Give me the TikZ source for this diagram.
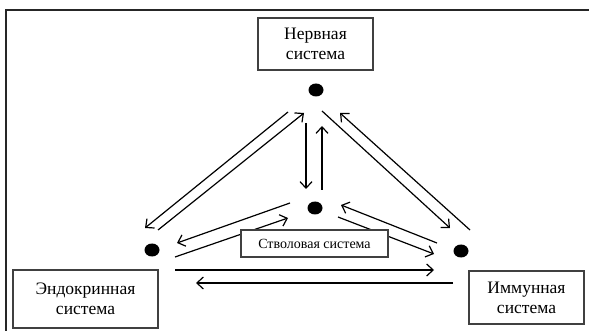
\documentclass[tikz,border=0pt]{standalone}
\usepackage{fontspec}
\setmainfont{Liberation Serif}
\usetikzlibrary{arrows.meta,shapes.geometric}
\begin{document}
\begin{tikzpicture}[x=1pt,y=-1pt,
  sysbox/.style={draw=black!75,line width=1.3pt,fill=white,inner sep=0pt,align=center,
    font=\fontsize{17.5}{20}\selectfont},
  dotnode/.style={ellipse,fill=black,minimum width=15pt,minimum height=13pt,inner sep=0pt},
  arr/.style={line width=1.2pt,-{Straight Barb[length=6.5pt,width=12pt,line width=1.2pt]}}]
\useasboundingbox (0,0) rectangle (589,331);
% outer frame (top and left)
\draw[line width=1.4pt,black!85] (589,10) -- (6,10) -- (6,331);
% dots
\node[dotnode] (T) at (316,90) {};
\node[dotnode] (M) at (315,208) {};
\node[dotnode] (L) at (152,250) {};
\node[dotnode] (R) at (461,251) {};
% arrow end points
\coordinate (a1) at (288,112); \coordinate (a2) at (145,228);
\coordinate (b1) at (158,230); \coordinate (b2) at (304,113);
\coordinate (c1) at (322,111); \coordinate (c2) at (450,228);
\coordinate (d1) at (470,230); \coordinate (d2) at (340,113);
\coordinate (e1) at (306,123); \coordinate (e2) at (306,189);
\coordinate (f1) at (322,190); \coordinate (f2) at (322,126);
\coordinate (g1) at (290,203); \coordinate (g2) at (177,243);
\coordinate (h1) at (175,257); \coordinate (h2) at (288,218);
\coordinate (i1) at (437,243); \coordinate (i2) at (341,205);
\coordinate (j1) at (338,217); \coordinate (j2) at (434,254);
\coordinate (k1) at (175,270); \coordinate (k2) at (434,270);
\coordinate (l1) at (453,283); \coordinate (l2) at (196,283);
% arrows
\draw[arr] (a1) -- (a2);
\draw[arr] (b1) -- (b2);
\draw[arr] (c1) -- (c2);
\draw[arr] (d1) -- (d2);
\draw[arr] (e1) -- (e2);
\draw[arr] (f1) -- (f2);
\draw[arr] (g1) -- (g2);
\draw[arr] (h1) -- (h2);
\draw[arr] (i1) -- (i2);
\draw[arr] (j1) -- (j2);
\draw[arr] (k1) -- (k2);
\draw[arr] (l1) -- (l2);
% boxes
\node[sysbox,minimum width=115pt,minimum height=52pt] (N) at (315.5,44) {Нервная\\система};
\node[sysbox,minimum width=145pt,minimum height=58pt] (E) at (85.5,299) {Эндокринная\\система};
\node[sysbox,minimum width=115pt,minimum height=53pt] (I) at (526.5,297.5) {Иммунная\\система};
\node[sysbox,minimum width=147pt,minimum height=27pt,font=\fontsize{14}{16}\selectfont] (S) at (314.5,243.5) {Стволовая система};
\end{tikzpicture}
\end{document}
